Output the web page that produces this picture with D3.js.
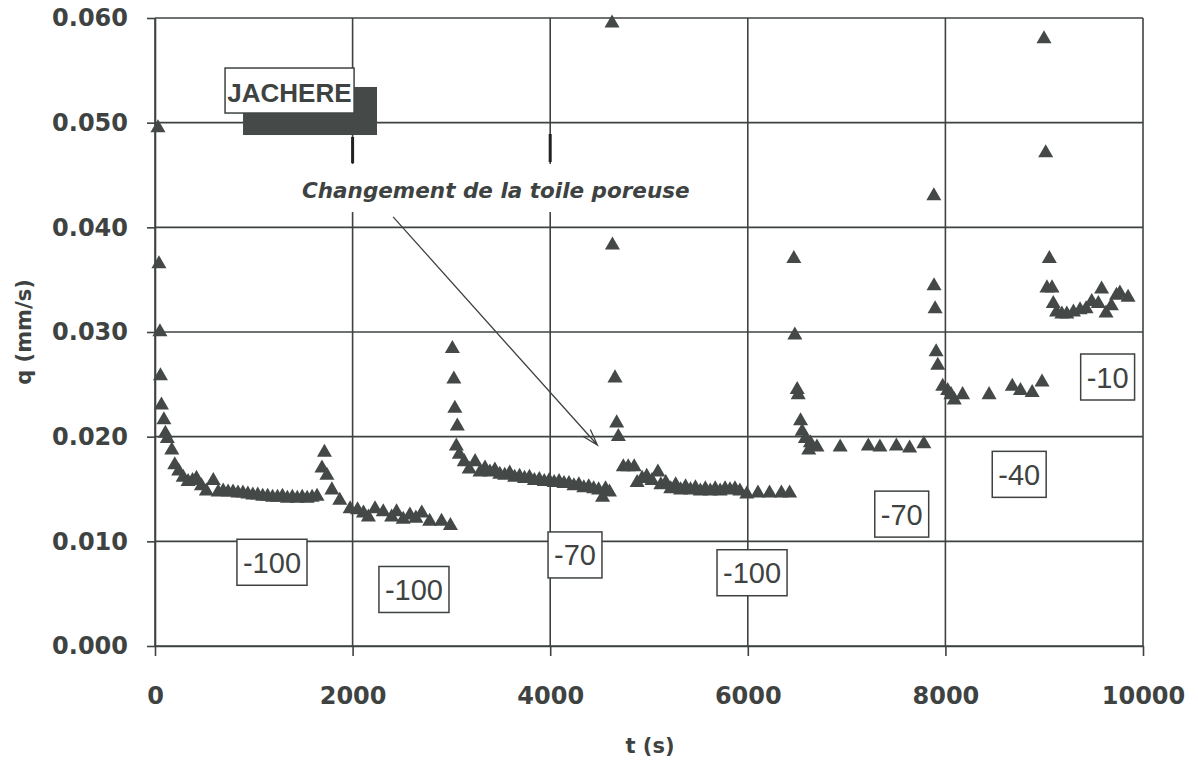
<!DOCTYPE html>
<html><head><meta charset="utf-8">
<script src="https://cdn.jsdelivr.net/npm/d3@7"></script>
<style>
html,body{margin:0;padding:0;background:#fff;}
svg{display:block;}
</style></head><body>
<svg id="c" width="1198" height="760"></svg>
<script>
// ---- data (t in s, q in mm/s), one pair of arrays per suction step ----
const run1T = [30,40,50,55,65,90,105,125,170,200,240,285,335,380,420,470,520,590,640,690,740,790,840,890,940,990,1040,1090,1140,1190,1240,1290,1340,1390,1440,1490,1540,1590,1640,1690,1715,1740,1790,1870,1975,2050,2110,2160,2227,2310,2395,2445,2512,2580,2640,2700,2780,2900,2990];
const run1Q = [0.0495,0.0365,0.0300,0.0258,0.0230,0.0216,0.0203,0.0198,0.0187,0.0173,0.0167,0.0161,0.0157,0.0158,0.0160,0.0153,0.0148,0.0158,0.0147,0.0148,0.0147,0.0147,0.0146,0.0146,0.0145,0.0144,0.0144,0.0143,0.0143,0.0142,0.0142,0.0143,0.0141,0.0142,0.0141,0.0142,0.0141,0.0142,0.0143,0.0170,0.0185,0.0163,0.0149,0.0139,0.0131,0.0130,0.0127,0.0123,0.0131,0.0128,0.0123,0.0128,0.0121,0.0125,0.0122,0.0127,0.0119,0.0119,0.0115];
const run2T = [3010,3025,3035,3060,3050,3080,3130,3180,3240,3290,3340,3390,3440,3490,3540,3590,3640,3690,3740,3790,3840,3890,3940,3990,4040,4090,4140,4190,4240,4290,4340,4390,4440,4490,4530,4560,4600];
const run2Q = [0.0284,0.0255,0.0227,0.0210,0.0191,0.0183,0.0176,0.0169,0.0176,0.0166,0.0170,0.0166,0.0168,0.0164,0.0163,0.0165,0.0161,0.0162,0.0160,0.0161,0.0158,0.0159,0.0157,0.0158,0.0156,0.0157,0.0155,0.0155,0.0153,0.0154,0.0151,0.0152,0.0150,0.0149,0.0142,0.0150,0.0147];
const run3T = [4626,4630,4656,4673,4690,4740,4790,4850,4880,4930,4977,5030,5090,5120,5170,5220,5270,5320,5370,5420,5470,5520,5570,5620,5670,5720,5770,5820,5870,5920,5990,6103,6220,6340,6423];
const run3Q = [0.0595,0.0383,0.0256,0.0213,0.0200,0.0171,0.0171,0.0171,0.0156,0.0160,0.0162,0.0158,0.0166,0.0154,0.0156,0.0150,0.0154,0.0149,0.0152,0.0149,0.0151,0.0148,0.0150,0.0148,0.0150,0.0148,0.0150,0.0149,0.0150,0.0148,0.0145,0.0146,0.0146,0.0146,0.0146];
const run4T = [6466,6476,6500,6510,6534,6550,6583,6617,6633,6700,6935,7220,7337,7504,7638,7782];
const run4Q = [0.0370,0.0297,0.0245,0.0240,0.0215,0.0205,0.0198,0.0187,0.0194,0.0190,0.0190,0.0191,0.0190,0.0191,0.0189,0.0193];
const run5T = [7883,7885,7896,7906,7923,7973,8023,8057,8090,8174,8442,8677,8760,8878,8978];
const run5Q = [0.0430,0.0344,0.0322,0.0281,0.0268,0.0248,0.0244,0.0240,0.0235,0.0240,0.0240,0.0248,0.0244,0.0242,0.0252];
const run6T = [8998,9015,9052,9028,9079,9092,9125,9179,9229,9296,9363,9424,9481,9548,9581,9626,9680,9732,9766,9849];
const run6Q = [0.0580,0.0471,0.0370,0.0342,0.0342,0.0327,0.0319,0.0317,0.0317,0.0319,0.0321,0.0322,0.0329,0.0327,0.0341,0.0318,0.0325,0.0335,0.0337,0.0333];

const xTicks = [0,2000,4000,6000,8000,10000];
const yTicks = [0.000,0.010,0.020,0.030,0.040,0.050,0.060];
const suctionLabels = ["-100","-100","-70","-100","-70","-40","-10"];
const suctionT = [1184,2621,4251,6043,7558,8747,9642];
const suctionQ = [0.0080,0.0054,0.0087,0.0070,0.0126,0.0164,0.0257];
const xTitle = "t (s)";
const yTitle = "q (mm/s)";
const soilLabel = "JACHERE";
const noteText = "Changement de la toile poreuse";

// ---- drawing ----
const ink = "#3e4342";
const markFill = "#444948";
const svg = d3.select("#c");
const x = d3.scaleLinear().domain([0,10000]).range([155,1143]);
const y = d3.scaleLinear().domain([0,0.06]).range([646,18]);

const pts = [];
[[run1T,run1Q],[run2T,run2Q],[run3T,run3Q],[run4T,run4Q],[run5T,run5Q],[run6T,run6Q]]
  .forEach(([T,Q]) => T.forEach((t,i) => pts.push({t, q: Q[i]})));

// grid
const grid = svg.append("g").attr("stroke", ink).attr("stroke-width", 1.6);
grid.selectAll("line.h").data(yTicks).join("line")
  .attr("x1", x(0)).attr("x2", x(10000))
  .attr("y1", d => y(d)).attr("y2", d => y(d));
grid.selectAll("line.v").data(xTicks).join("line")
  .attr("y1", y(0)).attr("y2", y(0.06))
  .attr("x1", d => x(d)).attr("x2", d => x(d));

// axes (outward ticks + labels)
const tickFont = "'DejaVu Sans', sans-serif";
const ya = svg.append("g").attr("transform", `translate(${x(0)},0)`)
  .call(d3.axisLeft(y).tickValues(yTicks).tickFormat(d3.format(".3f")).tickSize(8).tickSizeOuter(0).tickPadding(19));
const xa = svg.append("g").attr("transform", `translate(0,${y(0)})`)
  .call(d3.axisBottom(x).tickValues(xTicks).tickFormat(d3.format("d")).tickSize(10).tickSizeOuter(0).tickPadding(31));
[ya, xa].forEach(a => {
  a.select(".domain").attr("stroke", ink).attr("stroke-width", 1.6);
  a.selectAll(".tick line").attr("stroke", ink).attr("stroke-width", 1.6);
  a.selectAll(".tick text").attr("fill", ink).style("font-family", tickFont)
    .style("font-weight", "bold").style("font-size", "24px");
});

// axis titles
svg.append("text").attr("x", 650).attr("y", 753).attr("text-anchor", "middle")
  .attr("fill", ink).style("font-family", tickFont).style("font-weight", "bold").style("font-size", "21px")
  .text(xTitle);
svg.append("text").attr("transform", `translate(31,${y(0.0300)}) rotate(-90)`).attr("text-anchor", "middle")
  .attr("fill", ink).style("font-family", tickFont).style("font-weight", "bold").style("font-size", "21px")
  .text(yTitle);

// note: white gap in the vertical grid lines, and thick stubs
svg.append("rect").attr("x", x(1427)).attr("y", y(0.04605))
  .attr("width", x(5496) - x(1427)).attr("height", y(0.04146) - y(0.04605)).attr("fill", "#fff");
svg.append("line").attr("x1", x(2000)).attr("x2", x(2000)).attr("y1", y(0.04863)).attr("y2", y(0.04614))
  .attr("stroke", "#222").attr("stroke-width", 3);
svg.append("line").attr("x1", x(4000)).attr("x2", x(4000)).attr("y1", y(0.04892)).attr("y2", y(0.04624))
  .attr("stroke", "#222").attr("stroke-width", 3);
svg.append("text").attr("x", x(1488)).attr("y", y(0.0428))
  .attr("fill", ink).style("font-family", tickFont).style("font-weight", "bold")
  .style("font-style", "italic").style("font-size", "21.5px").text(noteText);

// JACHERE box with shadow
svg.append("rect").attr("x", x(891)).attr("y", y(0.05341))
  .attr("width", x(2247) - x(891)).attr("height", y(0.04882) - y(0.05341)).attr("fill", "#454a49");
svg.append("rect").attr("x", x(709)).attr("y", y(0.05522))
  .attr("width", x(2015) - x(709)).attr("height", y(0.05092) - y(0.05522))
  .attr("fill", "#fff").attr("stroke", ink).attr("stroke-width", 1.5);
svg.append("text").attr("x", x(1361)).attr("y", y(0.05197)).attr("text-anchor", "middle")
  .attr("fill", ink).style("font-family", "'Liberation Sans', Arial, sans-serif").style("font-weight", "bold")
  .style("font-size", "26px").text(soilLabel);

// arrow
const ax0 = x(2410), ay0 = y(0.0410), ax1 = x(4478), ay1 = y(0.0192);
const ang = Math.atan2(ay1 - ay0, ax1 - ax0), hl = 17, hw = 0.3;
svg.append("path")
  .attr("d", `M${ax0},${ay0}L${ax1},${ay1}` +
    `M${ax1 - hl*Math.cos(ang - hw)},${ay1 - hl*Math.sin(ang - hw)}L${ax1},${ay1}` +
    `L${ax1 - hl*Math.cos(ang + hw)},${ay1 - hl*Math.sin(ang + hw)}`)
  .attr("fill", "none").attr("stroke", ink).attr("stroke-width", 1.3);

// points
svg.append("g").selectAll("path").data(pts).join("path")
  .attr("transform", d => `translate(${x(d.t)},${y(d.q)})`)
  .attr("d", d3.symbol().type(d3.symbolTriangle).size(98))
  .attr("fill", markFill);

// suction labels in boxes
const boxFont = "'Liberation Sans', Arial, sans-serif";
suctionLabels.forEach((lab, i) => {
  const g = svg.append("g").attr("transform", `translate(${x(suctionT[i])},${y(suctionQ[i])})`);
  const r = g.append("rect").attr("fill", "#fff").attr("stroke", ink).attr("stroke-width", 1.5);
  const t = g.append("text").attr("text-anchor", "middle").attr("y", 10.5)
    .attr("fill", ink).style("font-family", boxFont).style("font-size", "29px").text(lab);
  const w = t.node().getComputedTextLength() + 12;
  r.attr("x", -w/2).attr("y", -23).attr("width", w).attr("height", 46);
});
</script>
</body></html>
